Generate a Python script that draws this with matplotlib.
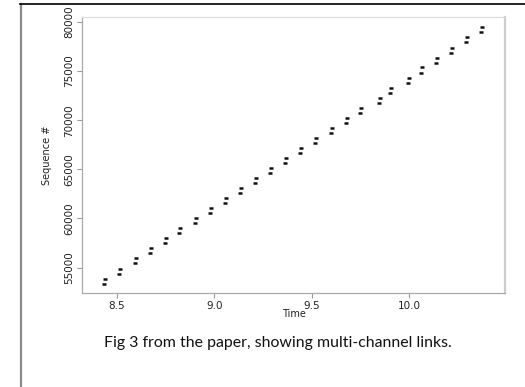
import matplotlib
matplotlib.use("Agg")
import matplotlib.pyplot as plt
from matplotlib.lines import Line2D
import numpy as np

# Data (time of each pair, sequence # of upper dash)
pair_time = [8.438, 8.515, 8.596, 8.673, 8.750, 8.825, 8.904, 8.984, 9.060, 9.137,
             9.214, 9.290, 9.368, 9.444, 9.521, 9.603, 9.680, 9.755, 9.851, 9.908,
             10.000, 10.065, 10.142, 10.219, 10.297, 10.374]
upper_seq = [53860, 54878, 55938, 56956, 57974, 58993, 60011, 61029, 62047, 63080,
             64084, 65133, 66121, 67139, 68219, 69206, 70224, 71273, 72291, 73310,
             74328, 75367, 76365, 77383, 78442, 79460]
channel_gap = 510       # sequence offset of the lower dash in each pair
time_shift = 0.005      # lower dash lies slightly earlier
x_ticks = [8.5, 9.0, 9.5, 10.0]
x_tick_labels = ["8.5", "9.0", "9.5", "10.0"]
y_ticks = [55000, 60000, 65000, 70000, 75000, 80000]
y_tick_labels = ["55000", "60000", "65000", "70000", "75000", "80000"]
caption = "Fig 3 from the paper, showing multi-channel links."

W, H = 525, 387
fig = plt.figure(figsize=(W / 100, H / 100), dpi=100)
fig.patch.set_facecolor("white")

# slide frame
fig.add_artist(Line2D([20.5 / W, 20.5 / W], [0, 1 - 4 / H], transform=fig.transFigure,
                      color="#8a8a8a", lw=1.6))
fig.add_artist(Line2D([20 / W, 1], [1 - 4 / H, 1 - 4 / H], transform=fig.transFigure,
                      color="black", lw=1.2))

ax = fig.add_axes([82 / W, 1 - 293 / H, (505 - 82) / W, (293 - 17) / H])
t = np.array(pair_time)
s = np.array(upper_seq)
ax.plot(t, s, linestyle="none", marker="_", ms=3.4, mew=1.8, color="#111111")
ax.plot(t - time_shift, s - channel_gap, linestyle="none", marker="_", ms=3.4, mew=1.8,
        color="#111111")

ax.set_xlim(8.3202, 10.4932)
ax.set_ylim(52404, 80509)

ax.set_xticks(x_ticks)
ax.set_xticklabels(x_tick_labels, fontsize=7.5, family="DejaVu Sans", color="#222222")
ax.set_yticks(y_ticks)
ax.set_yticklabels(y_tick_labels, fontsize=7.5, family=["Liberation Sans Narrow", "DejaVu Sans"],
                   rotation=90, va="center", color="#222222")
ax.tick_params(axis="both", length=3.5, width=0.8, color="#999999", pad=2)

for side in ["left", "bottom"]:
    ax.spines[side].set_color("#aaaaaa")
    ax.spines[side].set_linewidth(0.9)
ax.spines["top"].set_color("#dddddd")
ax.spines["top"].set_linewidth(0.9)
ax.spines["right"].set_color("#cccccc")
ax.spines["right"].set_linewidth(1.6)

ax.set_xlabel("Time", fontsize=7, family="DejaVu Sans", labelpad=-1.5, color="#222222")
ax.set_ylabel("Sequence #", fontsize=7, family=["Liberation Sans Narrow", "DejaVu Sans"],
              labelpad=9, color="#222222")

fig.text(278 / W, 1 - 343 / H, caption, ha="center", va="center", fontsize=11.4,
         family="Lato", color="#111111")

fig.savefig("out.png", dpi=100)
